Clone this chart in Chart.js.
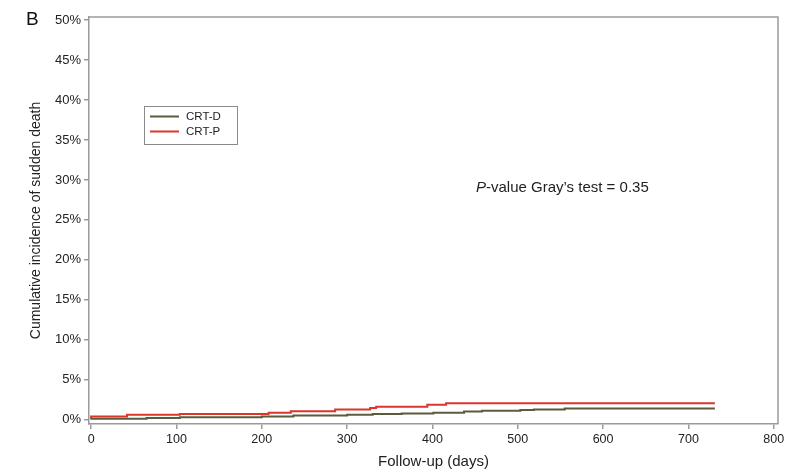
<!DOCTYPE html>
<html>
<head>
<meta charset="utf-8">
<script src="https://cdn.jsdelivr.net/npm/chart.js@4.4.0/dist/chart.umd.min.js"></script>
<style>
    html, body { margin: 0; padding: 0; background: #ffffff; }
    #wrap { position: relative; width: 792px; height: 471px; }
</style>
</head>
<body>
<div id="wrap"><canvas id="cifChart" width="792" height="471"></canvas></div>
<script>
// Step curves (days, cumulative incidence in %)
const crtDDays   = [0, 65, 104, 200, 237, 300, 330, 364, 401, 437, 458, 503, 519, 555, 593, 731];
const crtDValues = [0, 0.1, 0.2, 0.3, 0.4, 0.5, 0.6, 0.7, 0.75, 0.85, 1.0, 1.1, 1.2, 1.25, 1.4, 1.4];
const crtPDays   = [0, 42, 104, 208, 234, 286, 327, 334, 394, 416, 611, 731];
const crtPValues = [0.2, 0.4, 0.6, 0.7, 0.85, 1.05, 1.25, 1.45, 1.6, 1.85, 2.05, 2.05];

const xTicks = [0, 100, 200, 300, 400, 500, 600, 700, 800];
const yTicks = [0, 5, 10, 15, 20, 25, 30, 35, 40, 45, 50];

const seriesLabels = ['CRT-D', 'CRT-P'];
const seriesColors = ['#5b5b3f', '#dc352b'];

const FONT = '"Liberation Sans", Arial, sans-serif';
const AXIS_GREY = '#9a9a9a';

function toPoints(days, values) {
    return days.map((d, i) => ({ x: d, y: values[i] }));
}

// Frame, legend box, panel letter and test annotation
const decorPlugin = {
    id: 'decor',
    afterDraw(chart) {
        const ctx = chart.ctx;
        const area = chart.chartArea;
        ctx.save();

        // top and right frame lines
        ctx.strokeStyle = AXIS_GREY;
        ctx.lineWidth = 1.5;
        ctx.beginPath();
        ctx.moveTo(area.left, area.top);
        ctx.lineTo(area.right, area.top);
        ctx.lineTo(area.right, area.bottom);
        ctx.stroke();

        // legend box inside plot
        const bx = 144, by = 106, bw = 93, bh = 38;
        ctx.fillStyle = '#ffffff';
        ctx.fillRect(bx, by, bw, bh);
        ctx.strokeStyle = '#8a8a8a';
        ctx.lineWidth = 1;
        ctx.strokeRect(bx + 0.5, by + 0.5, bw, bh);
        ctx.font = '11.5px ' + FONT;
        ctx.textBaseline = 'middle';
        chart.data.datasets.forEach((ds, i) => {
            const ly = by + 10.5 + i * 15;
            ctx.strokeStyle = ds.borderColor;
            ctx.lineWidth = 2;
            ctx.beginPath();
            ctx.moveTo(bx + 6, ly);
            ctx.lineTo(bx + 35, ly);
            ctx.stroke();
            ctx.fillStyle = '#222222';
            ctx.fillText(ds.label, bx + 42, ly);
        });

        // panel letter
        ctx.fillStyle = '#111111';
        ctx.font = '19px ' + FONT;
        ctx.textBaseline = 'middle';
        ctx.fillText('B', 26, 20);

        // Gray's test annotation
        ctx.font = 'italic 15px ' + FONT;
        ctx.fillStyle = '#222222';
        const tx = 476, ty = 188;
        ctx.fillText('P', tx, ty);
        const pw = ctx.measureText('P').width;
        ctx.font = '15px ' + FONT;
        ctx.fillText('-value Gray\u2019s test = 0.35', tx + pw, ty);

        ctx.restore();
    }
};

const ctx = document.getElementById('cifChart').getContext('2d');
const cifChart = new Chart(ctx, {
    type: 'line',
    data: {
        datasets: [{
            label: seriesLabels[0],
            data: toPoints(crtDDays, crtDValues),
            borderColor: seriesColors[0],
            borderWidth: 2,
            pointRadius: 0,
            stepped: 'after',
            fill: false
        }, {
            label: seriesLabels[1],
            data: toPoints(crtPDays, crtPValues),
            borderColor: seriesColors[1],
            borderWidth: 2,
            pointRadius: 0,
            stepped: 'after',
            fill: false
        }]
    },
    options: {
        responsive: false,
        animation: false,
        layout: {
            padding: { top: 17, right: 14, left: 28, bottom: 0 }
        },
        plugins: {
            legend: { display: false },
            tooltip: { enabled: false }
        },
        scales: {
            x: {
                type: 'linear',
                min: -2.5,
                max: 805,
                afterBuildTicks: function(scale) {
                    scale.ticks = xTicks.map(v => ({ value: v }));
                },
                afterFit: function(scale) { scale.height = 47; },
                ticks: {
                    color: '#222222',
                    font: { family: FONT, size: 12.5 },
                    padding: 3,
                    maxRotation: 0
                },
                grid: {
                    display: true,
                    drawOnChartArea: false,
                    drawTicks: true,
                    tickLength: 5,
                    color: AXIS_GREY,
                    lineWidth: 1.5
                },
                border: { display: true, color: AXIS_GREY, width: 1.5 },
                title: {
                    display: true,
                    text: 'Follow-up (days)',
                    color: '#222222',
                    font: { family: FONT, size: 15 },
                    padding: { top: 2, bottom: 0 }
                }
            },
            y: {
                type: 'linear',
                min: -0.55,
                max: 50.4,
                afterBuildTicks: function(scale) {
                    scale.ticks = yTicks.map(v => ({ value: v }));
                },
                afterFit: function(scale) { scale.width = 61; },
                ticks: {
                    color: '#222222',
                    font: { family: FONT, size: 13 },
                    padding: 3,
                    callback: function(value) { return value + '%'; }
                },
                grid: {
                    display: true,
                    drawOnChartArea: false,
                    drawTicks: true,
                    tickLength: 5,
                    color: AXIS_GREY,
                    lineWidth: 1.5
                },
                border: { display: true, color: AXIS_GREY, width: 1.5 },
                title: {
                    display: true,
                    text: 'Cumulative incidence of sudden death',
                    color: '#222222',
                    font: { family: FONT, size: 14 },
                    padding: { top: 0, bottom: 4 }
                }
            }
        }
    },
    plugins: [decorPlugin]
});
</script>
</body>
</html>
